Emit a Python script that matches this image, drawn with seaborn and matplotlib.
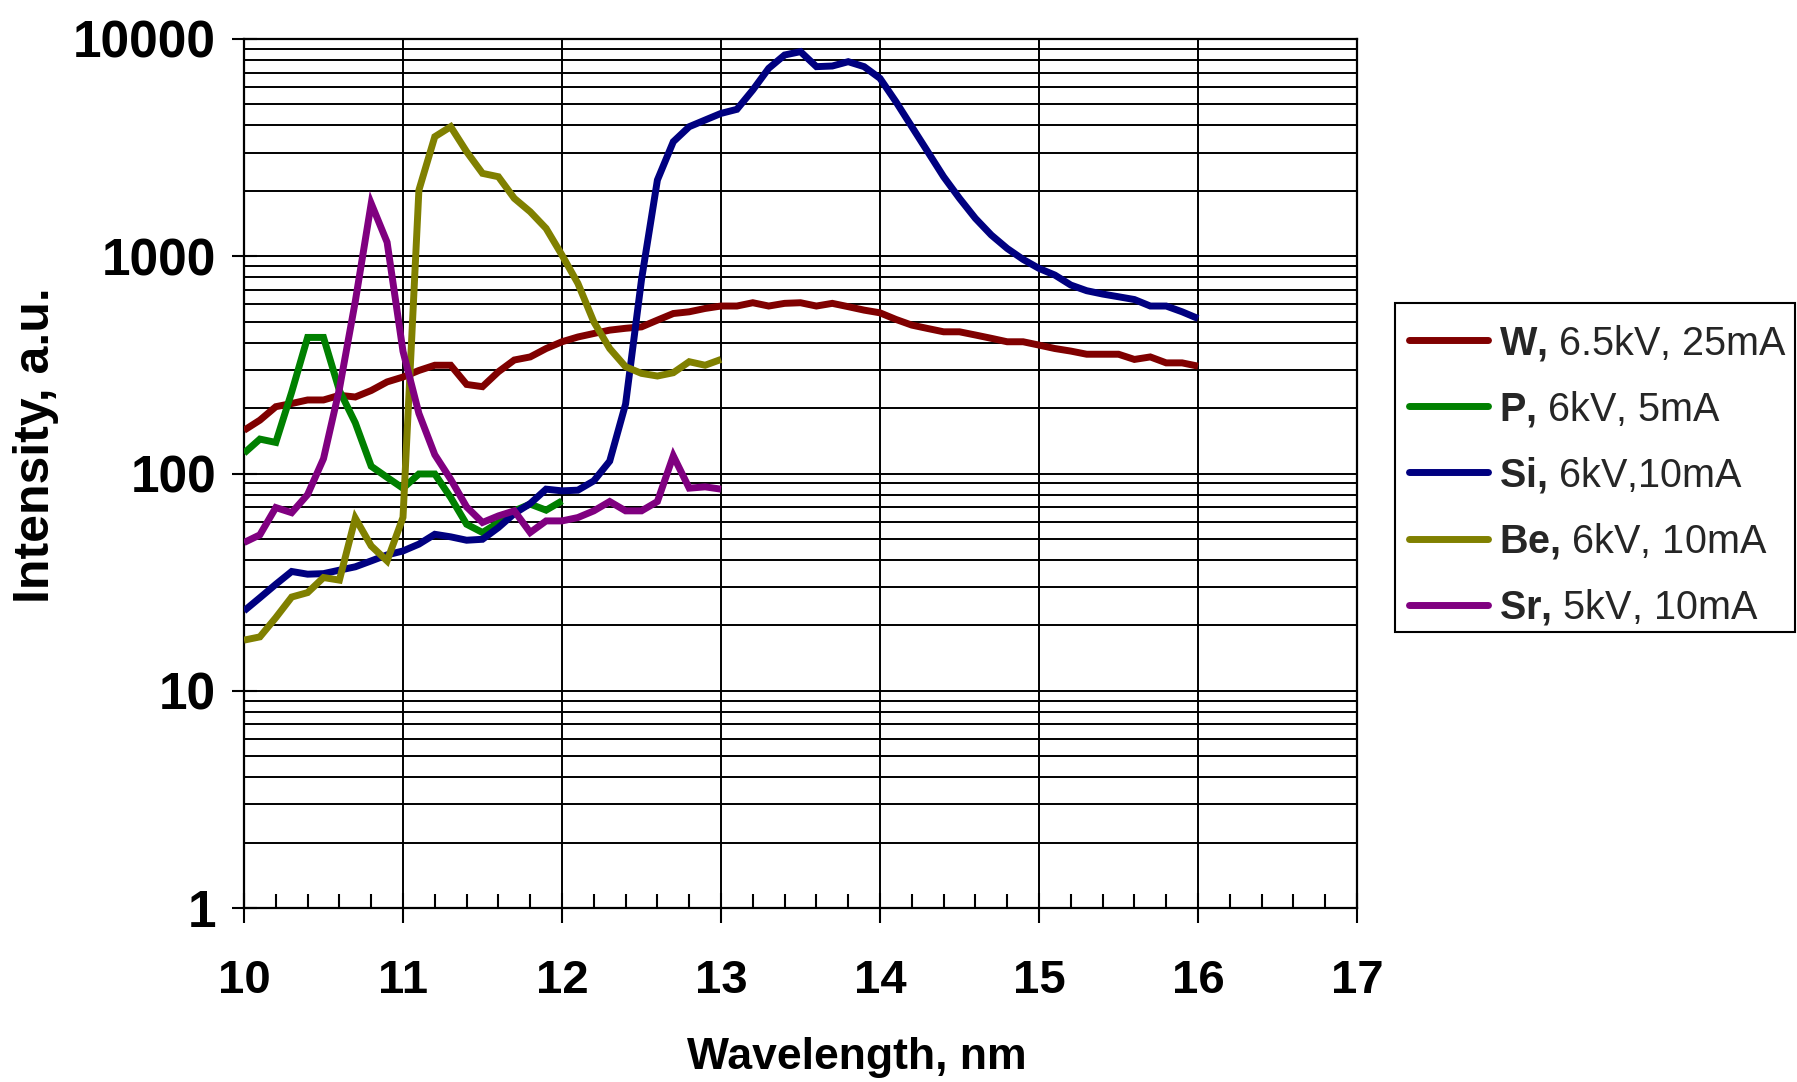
import numpy as np
import pandas as pd
import matplotlib
matplotlib.use("Agg")
import matplotlib.pyplot as plt
from matplotlib.lines import Line2D
from matplotlib.patches import Rectangle
from matplotlib.ticker import FixedLocator, MultipleLocator, NullFormatter, FixedFormatter
import seaborn as sns

# Wavelength grids (nm), 0.1 nm sampling
wl_w_si = np.round(np.arange(100, 161) / 10.0, 1)   # 10.0 .. 16.0
wl_p = np.round(np.arange(100, 121) / 10.0, 1)      # 10.0 .. 12.0
wl_be_sr = np.round(np.arange(100, 131) / 10.0, 1)  # 10.0 .. 13.0

w_intensity = [158, 176, 203, 210, 218, 218, 229, 225, 241, 264,
               278, 298, 315, 315, 257, 251, 294, 333, 344, 376,
               404, 425, 441, 457, 466, 473, 508, 545, 555, 575,
               590, 590, 611, 590, 607, 611, 590, 607, 586, 565,
               549, 512, 482, 465, 449, 449, 434, 419, 404, 404,
               390, 376, 366, 354, 354, 354, 335, 344, 323, 323,
               312]

p_intensity = [124, 144, 139, 237, 423, 423, 241, 171, 108, 96,
               85.5, 99.5, 99.5, 77.5, 58.4, 53.5, 59.4, 67.3, 72.3, 67.8,
               74.8]

si_intensity = [23.3, 26.8, 30.9, 35.4, 34.4, 34.6, 35.9, 37.2, 39.6, 42.2,
                44.0, 47.3, 52.5, 51.1, 49.3, 49.8, 56.4, 65.4, 72.7, 84.7,
                83.2, 83.8, 92.5, 114, 209, 780, 2243, 3367, 3947, 4236,
                4545, 4745, 5825, 7328, 8440, 8746, 7460, 7510, 7863, 7460,
                6589, 5146, 3947, 3030, 2323, 1847, 1494, 1252, 1086, 967,
                879, 819, 737, 694, 670, 651, 632, 590, 590, 555,
                517]

be_intensity = [17.1, 17.7, 21.7, 27.0, 28.3, 33.2, 32.3, 62.3, 46.4, 39.6,
                62.8, 2016, 3550, 3947, 3030, 2407, 2323, 1847, 1603, 1343,
                1012, 750, 499, 376, 310, 289, 281, 291, 327, 315,
                335]

sr_intensity = [48.1, 52.2, 69.7, 66.0, 80.0, 117, 245, 620, 1750, 1160,
                365, 189, 122, 94, 70.2, 59.5, 63.8, 67.3, 53.5, 60.5,
                60.5, 62.7, 67.3, 74.3, 67.3, 67.3, 74.3, 120.6, 85.6, 86.8,
                84.7]

sources = ["W", "P", "Si", "Be", "Sr"]
legend_labels = [r"$\mathbf{W{,}}$ 6.5kV, 25mA",
                 r"$\mathbf{P{,}}$ 6kV, 5mA",
                 r"$\mathbf{Si{,}}$ 6kV,10mA",
                 r"$\mathbf{Be{,}}$ 6kV, 10mA",
                 r"$\mathbf{Sr{,}}$ 5kV, 10mA"]
colors = ["#800000", "#008000", "#000080", "#808000", "#800080"]

y_ticks = [1, 10, 100, 1000, 10000]
y_tick_labels = ["1", "10", "100", "1000", "10000"]
x_ticks = [10, 11, 12, 13, 14, 15, 16, 17]

frames = []
for name, wl, vals in [("W", wl_w_si, w_intensity),
                       ("P", wl_p, p_intensity),
                       ("Si", wl_w_si, si_intensity),
                       ("Be", wl_be_sr, be_intensity),
                       ("Sr", wl_be_sr, sr_intensity)]:
    frames.append(pd.DataFrame({"wavelength": wl, "intensity": vals, "source": name}))
df = pd.concat(frames, ignore_index=True)

sns.set_theme(style="white")
plt.rcParams["font.family"] = ["Liberation Sans", "DejaVu Sans"]
plt.rcParams["font.weight"] = "bold"
plt.rcParams["mathtext.fontset"] = "custom"
plt.rcParams["mathtext.rm"] = "Liberation Sans"
plt.rcParams["mathtext.bf"] = "Liberation Sans:bold"

LW = 5.0
W_PX, H_PX = 1797, 1082

fig = plt.figure(figsize=(W_PX / 100, H_PX / 100), dpi=100)
ax = fig.add_axes([244 / W_PX, 1 - 908 / H_PX, 1113 / W_PX, (908 - 39) / H_PX])

palette = dict(zip(sources, colors))
sns.lineplot(data=df, x="wavelength", y="intensity", hue="source",
             hue_order=sources, palette=palette, linewidth=LW,
             estimator=None, sort=False, legend=False, ax=ax, zorder=3)
for ln in ax.lines:
    ln.set_linewidth(LW)
    ln.set_solid_joinstyle("miter")
    ln.set_solid_capstyle("butt")

ax.set_yscale("log")
ax.set_xlim(10, 17)
ax.set_ylim(1, 10000)

ax.xaxis.set_major_locator(FixedLocator(x_ticks))
ax.xaxis.set_minor_locator(MultipleLocator(0.2))
ax.yaxis.set_major_locator(FixedLocator(y_ticks))
ax.yaxis.set_major_formatter(FixedFormatter(y_tick_labels))
minor_y = [m * 10 ** e for e in range(0, 4) for m in range(2, 10)]
ax.yaxis.set_minor_locator(FixedLocator(minor_y))
ax.yaxis.set_minor_formatter(NullFormatter())

ax.grid(which="major", axis="both", color="black", linewidth=1.4, zorder=1)
ax.grid(which="minor", axis="y", color="black", linewidth=1.4, zorder=1)
ax.grid(which="minor", axis="x", visible=False)
ax.set_axisbelow(True)

ax.tick_params(axis="x", which="major", direction="inout", length=22, width=1.5,
               pad=26, labelsize=34, colors="black")
ax.tick_params(axis="x", which="minor", direction="in", length=10, width=1.5,
               colors="black")
ax.tick_params(axis="y", which="major", direction="inout", length=18, width=1.5,
               pad=11, labelsize=37, colors="black")
ax.tick_params(axis="y", which="minor", length=0)
ax.tick_params(bottom=True, left=True, which="both")

for spine in ax.spines.values():
    spine.set_visible(True)
    spine.set_color("black")
    spine.set_linewidth(1.6)

ax.set_xlabel("Wavelength, nm", fontsize=32, fontweight="bold", color="black")
ax.xaxis.set_label_coords(0.5504, -0.149)
ax.set_ylabel("Intensity, a.u.", fontsize=36, fontweight="bold", color="black")
ax.yaxis.label.set_va("center")
ax.yaxis.set_label_coords(-0.187, 0.533)

# legend entries without frame; the box is drawn separately
handles = [Line2D([0], [0], color=c, linewidth=LW) for c in colors]
leg = fig.legend(handles, legend_labels, loc="upper left",
                 bbox_to_anchor=(1394 / W_PX, 1 - 307.5 / H_PX),
                 bbox_transform=fig.transFigure, frameon=False,
                 borderaxespad=0, handlelength=2.0, handletextpad=0.27,
                 labelspacing=0.66, borderpad=0.38,
                 prop={"size": 28.5, "weight": "normal"})

box = Rectangle((1395 / W_PX, 1 - 632 / H_PX), 400 / W_PX, 329 / H_PX,
                transform=fig.transFigure, fill=False, edgecolor="black",
                linewidth=1.5)
fig.patches.append(box)

fig.savefig("out.png", dpi=100, facecolor="white")
